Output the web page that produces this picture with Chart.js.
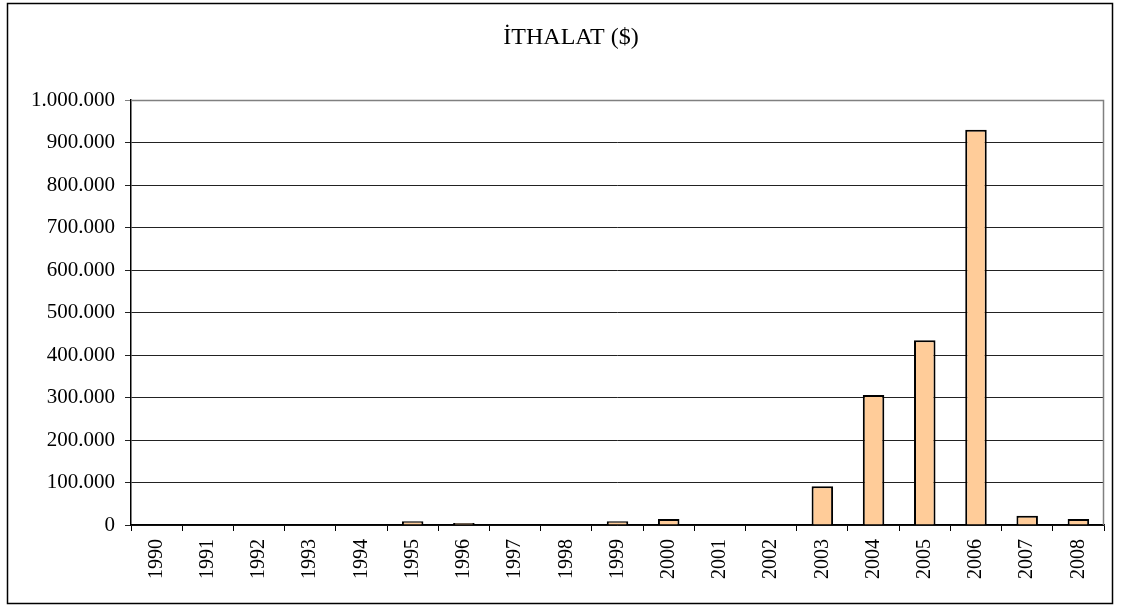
<!DOCTYPE html>
<html>
<head>
<meta charset="utf-8">
<script src="https://cdn.jsdelivr.net/npm/chart.js@4"></script>
<style>
html,body{margin:0;padding:0;background:#fff;}
#wrap{width:1121px;height:607px;position:relative;}
</style>
</head>
<body>
<div id="wrap"><canvas id="c" width="1121" height="607"></canvas></div>
<script>
const chartTitle = 'İTHALAT ($)';
const years = ['1990','1991','1992','1993','1994','1995','1996','1997','1998','1999','2000','2001','2002','2003','2004','2005','2006','2007','2008'];
const imports = [0,0,0,0,0,9000,5000,0,0,9000,14000,0,0,91000,306000,435000,930000,22000,14000];
const yMax = 1000000;
const yStep = 100000;

function fmt(v){
  return String(Math.round(v)).replace(/\B(?=(\d{3})+(?!\d))/g, '.');
}

const framePlugin = {
  id: 'frame',
  beforeDraw(chart){
    const ctx = chart.ctx;
    ctx.save();
    ctx.fillStyle = '#fff';
    ctx.fillRect(0,0,chart.width,chart.height);
    ctx.strokeStyle = '#000';
    ctx.lineWidth = 1.5;
    ctx.strokeRect(7.5, 3.5, 1105, 600);
    ctx.fillStyle = '#000';
    ctx.font = '24px "Liberation Serif", "Times New Roman", serif';
    ctx.textAlign = 'center';
    ctx.textBaseline = 'alphabetic';
    ctx.fillText(chartTitle, 571, 44);
    ctx.restore();
  },
  afterDatasetsDraw(chart){
    const a = chart.chartArea, ctx = chart.ctx;
    ctx.save();
    ctx.strokeStyle = '#808080';
    ctx.lineWidth = 1.5;
    ctx.beginPath();
    ctx.moveTo(a.left, a.top + 0.5);
    ctx.lineTo(a.right - 0.5, a.top + 0.5);
    ctx.lineTo(a.right - 0.5, a.bottom);
    ctx.stroke();
    ctx.restore();
  }
};

new Chart(document.getElementById('c'), {
  type: 'bar',
  data: {
    labels: years,
    datasets: [{
      data: imports,
      backgroundColor: '#FFCC99',
      borderColor: '#000',
      borderWidth: 2,
      barPercentage: 0.42,
      categoryPercentage: 1
    }]
  },
  options: {
    responsive: false,
    animation: false,
    events: [],
    layout: { padding: { left: 0, right: 17, top: 100, bottom: 0 } },
    plugins: { legend: { display: false }, title: { display: false }, tooltip: { enabled: false } },
    scales: {
      x: {
        afterFit(s){ s.height = 82; },
        border: { display: true, color: '#000', width: 1.5 },
        grid: { offset: true, drawOnChartArea: false, drawTicks: true, tickLength: 6, color: '#000' },
        ticks: {
          autoSkip: false, minRotation: 90, maxRotation: 90, padding: 8,
          color: '#000',
          font: { family: '"Liberation Serif", "Times New Roman", serif', size: 20 }
        }
      },
      y: {
        min: 0, max: yMax,
        afterFit(s){ s.width = 131; },
        border: { display: true, color: '#000', width: 1.5 },
        grid: {
          color: (c) => (c.tick && c.tick.value === yMax) ? '#808080' : '#222',
          lineWidth: 1, tickLength: 6, drawTicks: true
        },
        ticks: {
          stepSize: yStep, padding: 10, color: '#000',
          font: { family: '"Liberation Serif", "Times New Roman", serif', size: 21 },
          callback: (v) => fmt(v)
        }
      }
    }
  },
  plugins: [framePlugin]
});
</script>
</body>
</html>
